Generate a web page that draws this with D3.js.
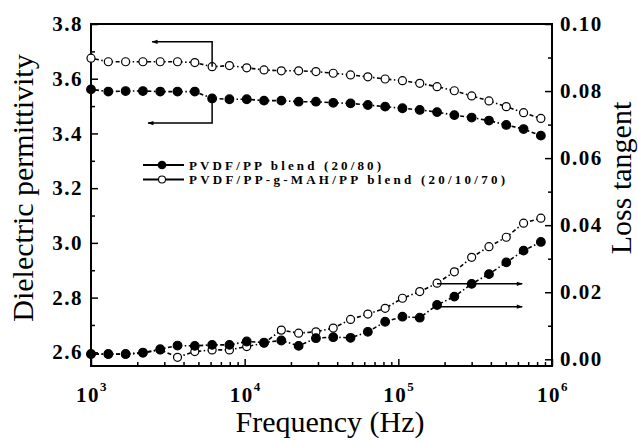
<!DOCTYPE html>
<meta charset="utf-8">
<style>
body { margin: 0; background: #fff; }
text { font-family: "Liberation Serif", "Times New Roman", serif; fill: #000; }
.ticklab { font-family: "Liberation Serif", serif; font-weight: 700; font-size: 21px; letter-spacing: 1.5px; }
.axis path { display: none; }
.axis line { stroke: #000; stroke-width: 1.5px; }
.series { fill: none; stroke: #000; stroke-width: 1.6px; stroke-dasharray: 1.5,2.5,4,2.5; }
.arrow { fill: none; stroke: #000; stroke-width: 1.5px; }
</style>
<svg width="638" height="441"></svg>
<script src="https://d3js.org/d3.v7.min.js"></script>
<script>
// frequencies (Hz), same for all four series
var freq = [1000, 1296, 1680, 2177, 2821, 3656, 4738, 6141, 7958, 10313, 13366, 17321, 22449,
  29092, 37703, 48865, 63329, 82077, 106362, 137847, 178649, 231527, 300070, 388884,
  503990, 653130, 846430];

// dielectric permittivity (left axis)
var epsBlend = [3.561, 3.553, 3.555, 3.555, 3.553, 3.553, 3.553, 3.528, 3.525, 3.525, 3.520,
  3.520, 3.516, 3.516, 3.512, 3.510, 3.504, 3.498, 3.492, 3.486, 3.478, 3.467, 3.458,
  3.447, 3.431, 3.416, 3.392];
var epsCompat = [3.675, 3.662, 3.662, 3.662, 3.662, 3.662, 3.659, 3.644, 3.648, 3.640, 3.632,
  3.629, 3.629, 3.626, 3.620, 3.614, 3.607, 3.599, 3.593, 3.583, 3.571, 3.556, 3.537,
  3.519, 3.498, 3.476, 3.455];

// loss tangent (right axis)
var tanBlend = [0.0016, 0.0016, 0.0016, 0.0020, 0.0030, 0.0041, 0.0040, 0.0043, 0.0043, 0.0053,
  0.0050, 0.0056, 0.0040, 0.0063, 0.0066, 0.0064, 0.0082, 0.0112, 0.0127, 0.0124, 0.0162,
  0.0187, 0.0225, 0.0254, 0.0289, 0.0324, 0.0350];
var tanCompat = [0.0015, 0.0015, 0.0015, 0.0019, 0.0028, 0.0006, 0.0023, 0.0028, 0.0028, 0.0038,
  0.0048, 0.0087, 0.0078, 0.0082, 0.0093, 0.0119, 0.0135, 0.0152, 0.0182, 0.0202, 0.0227,
  0.0261, 0.0304, 0.0336, 0.0364, 0.0406, 0.0421];

var xTicks = [1e3, 1e4, 1e5, 1e6];
var yLeftTicks = [2.6, 2.8, 3.0, 3.2, 3.4, 3.6, 3.8];
var yLeftMinor = [2.7, 2.9, 3.1, 3.3, 3.5, 3.7];
var yRightTicks = [0, 0.02, 0.04, 0.06, 0.08, 0.10];
var yRightMinor = [0.01, 0.03, 0.05, 0.07, 0.09];
var legendLabels = ["PVDF/PP blend (20/80)", "PVDF/PP-g-MAH/PP blend (20/10/70)"];

var svg = d3.select("svg");
var L = 91, R = 552, T = 24, B = 366;

var x = d3.scaleLog().domain([1e3, 1e6]).range([L, R]);
var yL = d3.scaleLinear().domain([2.55, 3.8]).range([B, T]);
var yR = d3.scaleLinear().domain([-0.002, 0.1]).range([B, T]);

// ticks (pointing inward)
var xMinor = x.ticks().filter(function(d) { return xTicks.indexOf(d) < 0; });
svg.append("g").attr("class", "axis").attr("transform", "translate(0," + B + ")")
  .call(d3.axisBottom(x).tickValues(xTicks).tickSize(-7).tickFormat(""));
svg.append("g").attr("class", "axis").attr("transform", "translate(0," + B + ")")
  .call(d3.axisBottom(x).tickValues(xMinor).tickSize(-4).tickFormat(""));

svg.append("g").attr("class", "axis").attr("transform", "translate(" + L + ",0)")
  .call(d3.axisLeft(yL).tickValues(yLeftTicks).tickSize(-7).tickFormat(""));
svg.append("g").attr("class", "axis").attr("transform", "translate(" + L + ",0)")
  .call(d3.axisLeft(yL).tickValues(yLeftMinor).tickSize(-4).tickFormat(""));

svg.append("g").attr("class", "axis").attr("transform", "translate(" + R + ",0)")
  .call(d3.axisRight(yR).tickValues(yRightTicks).tickSize(-7).tickFormat(""));
svg.append("g").attr("class", "axis").attr("transform", "translate(" + R + ",0)")
  .call(d3.axisRight(yR).tickValues(yRightMinor).tickSize(-4).tickFormat(""));

// frame
svg.append("rect").attr("x", L).attr("y", T).attr("width", R - L).attr("height", B - T)
  .attr("fill", "none").attr("stroke", "#000").attr("stroke-width", 2);

// tick labels
svg.selectAll(".ylab").data(yLeftTicks).enter().append("text")
  .attr("class", "ticklab").attr("text-anchor", "end")
  .attr("x", L - 8).attr("y", function(d) { return yL(d); }).attr("dy", "0.34em")
  .text(function(d) { return d.toFixed(1); });

svg.selectAll(".rlab").data(yRightTicks).enter().append("text")
  .attr("class", "ticklab")
  .attr("x", R + 8).attr("y", function(d) { return yR(d); }).attr("dy", "0.34em")
  .text(function(d) { return d.toFixed(2); });

var xl = svg.selectAll(".xlab").data(xTicks).enter().append("text")
  .attr("class", "ticklab").attr("text-anchor", "middle")
  .attr("x", function(d) { return x(d) + 1; }).attr("y", 402);
xl.append("tspan").text("10");
xl.append("tspan").attr("dy", -11).style("font-size", "13px")
  .text(function(d) { return Math.round(Math.log10(d)); });

// axis titles
svg.append("text").attr("text-anchor", "middle").style("font-size", "30px")
  .attr("transform", "translate(33,188) rotate(-90)").text("Dielectric permittivity");
svg.append("text").attr("text-anchor", "middle").style("font-size", "30px")
  .attr("transform", "translate(631,178) rotate(-90)").text("Loss tangent");
svg.append("text").attr("text-anchor", "middle").style("font-size", "30px")
  .attr("x", 330).attr("y", 432).text("Frequency (Hz)");

// series
function series(vals, yScale, filled) {
  var pts = freq.map(function(f, i) { return [f, vals[i]]; });
  var line = d3.line().x(function(d) { return x(d[0]); }).y(function(d) { return yScale(d[1]); });
  svg.append("path").attr("class", "series").attr("d", line(pts));
  svg.append("g").selectAll("circle").data(pts).enter().append("circle")
    .attr("cx", function(d) { return x(d[0]); })
    .attr("cy", function(d) { return yScale(d[1]); })
    .attr("r", filled ? 4.3 : 4)
    .attr("fill", filled ? "#000" : "#fff")
    .attr("stroke", "#000").attr("stroke-width", 1.2);
}
series(epsCompat, yL, false);
series(epsBlend, yL, true);
series(tanCompat, yR, false);
series(tanBlend, yR, true);

// arrows pointing to the proper axis
var defs = svg.append("defs");
defs.append("marker").attr("id", "ah").attr("viewBox", "0 0 10 10")
  .attr("refX", 9).attr("refY", 5).attr("markerWidth", 7).attr("markerHeight", 6)
  .attr("markerUnits", "userSpaceOnUse").attr("orient", "auto")
  .append("path").attr("d", "M0,1.5L10,5L0,8.5Z").attr("fill", "#000");

var k = 7;
var arrows = [
  [[freq[k], epsCompat[k]], [freq[k], 3.735], [2500, 3.735], yL],
  [[freq[k], epsBlend[k]], [freq[k], 3.438], [2350, 3.438], yL]
];
arrows.forEach(function(a) {
  var s = a[3];
  svg.append("path").attr("class", "arrow").attr("marker-end", "url(#ah)")
    .attr("d", "M" + x(a[0][0]) + "," + s(a[0][1]) + "L" + x(a[1][0]) + "," + s(a[1][1]) +
      "L" + x(a[2][0]) + "," + s(a[2][1]));
});
var j = 20;
[[tanCompat[j], 0.0225], [tanBlend[j], 0.0157]].forEach(function(a) {
  svg.append("path").attr("class", "arrow").attr("marker-end", "url(#ah)")
    .attr("d", "M" + x(freq[j]) + "," + yR(a[1]) + "L" + x(640000) + "," + yR(a[1]));
});

// legend
var leg = svg.append("g");
var legLen = [192, 316];
legendLabels.forEach(function(lab, i) {
  var cy = 165 + i * 14.5;
  leg.append("line").attr("x1", 143).attr("x2", 184).attr("y1", cy).attr("y2", cy)
    .attr("stroke", "#000").attr("stroke-width", 2);
  leg.append("circle").attr("cx", 162).attr("cy", cy).attr("r", i === 0 ? 3.8 : 3.5)
    .attr("fill", i === 0 ? "#000" : "#fff").attr("stroke", "#000").attr("stroke-width", 1.1);
  leg.append("text").attr("x", 189).attr("y", cy + 4.5)
    .attr("textLength", legLen[i]).attr("lengthAdjust", "spacing")
    .style("font-size", "13px").style("font-weight", "bold").text(lab);
});
</script>
